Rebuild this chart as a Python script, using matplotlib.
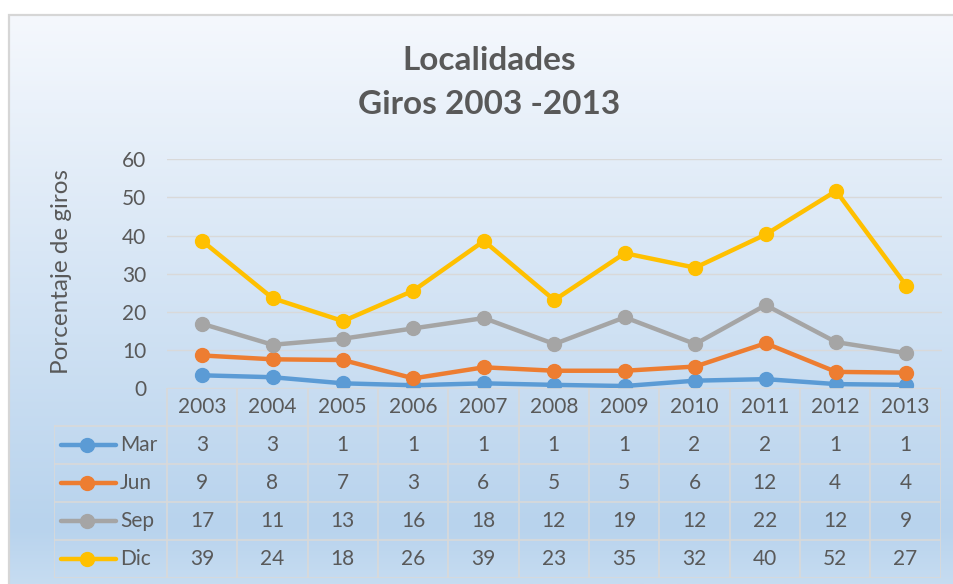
import matplotlib
matplotlib.use("Agg")
import matplotlib.pyplot as plt
import numpy as np
from matplotlib.patches import Rectangle

# data (lines), table shows rounded values
years = ["2003", "2004", "2005", "2006", "2007", "2008", "2009", "2010", "2011", "2012", "2013"]
series_names = ["Mar", "Jun", "Sep", "Dic"]
mar = [3.4, 2.9, 1.3, 0.8, 1.3, 0.9, 0.6, 2.0, 2.4, 1.1, 0.9]
jun = [8.6, 7.6, 7.4, 2.6, 5.5, 4.6, 4.6, 5.7, 11.8, 4.3, 4.1]
sep = [16.9, 11.4, 13.0, 15.7, 18.4, 11.6, 18.6, 11.6, 21.8, 12.1, 9.2]
dic = [38.6, 23.6, 17.6, 25.6, 38.6, 23.1, 35.4, 31.6, 40.3, 51.7, 26.8]
colors = ["#5b9bd5", "#ed7d31", "#a5a5a5", "#ffc000"]

W, H = 954, 584
txt = "#595959"
gridc = "#d9d9d9"
plt.rcParams['font.family'] = ['Lato', 'DejaVu Sans']

fig = plt.figure(figsize=(W / 100, H / 100), dpi=100)
fig.patch.set_facecolor("white")

# chart area gradient background
bg = fig.add_axes([10 / W, 0, 1 - 10 / W, (H - 16) / H], zorder=-5)
grad = np.linspace(0, 1, 256)
top = np.array([245, 248, 253]) / 255
mid = np.array([184, 211, 237]) / 255
bot = np.array([198, 220, 241]) / 255
cols = []
for g in grad:
    if g < 0.9:
        t = g / 0.9
        cols.append(top * (1 - t) + mid * t)
    else:
        t = (g - 0.9) / 0.1
        cols.append(mid * (1 - t) + bot * t)
cols = np.array(cols)[:, None, :]
bg.imshow(cols, aspect="auto", extent=[0, 1, 0, 1])
bg.set_axis_off()
fig.patches.append(Rectangle((9 / W, -0.1), 1.2, (H - 15) / H + 0.1,
                             transform=fig.transFigure, fill=False,
                             edgecolor="#d6d6d6", linewidth=1.6, zorder=-4))

# plot area
left, right = 167, 941.7
ytop, ybot = 159.3, 388.3
ax = fig.add_axes([left / W, 1 - ybot / H, (right - left) / W, (ybot - ytop) / H])
ax.patch.set_alpha(0)
x = np.arange(len(years))
for vals, c in zip([mar, jun, sep, dic], colors):
    ax.plot(x, vals, color=c, linewidth=3.2, marker="o", markersize=10,
            solid_capstyle="round", zorder=3)
ax.set_xlim(-0.5, len(years) - 0.5)
ax.set_ylim(0, 60)
ax.set_yticks(range(0, 61, 10))
ax.set_xticks([])
ax.grid(axis="y", color=gridc, linewidth=1)
for s in ax.spines.values():
    s.set_visible(False)
ax.tick_params(axis="y", length=0, pad=15, labelsize=15, labelcolor=txt)
for lab in ax.get_yticklabels():
    lab.set_horizontalalignment("right")

fig.text(62 / W, 1 - 272 / H, "Porcentaje de giros", rotation=90,
         ha="center", va="center", fontsize=17.5, color=txt)
fig.text(489 / W, 1 - 60 / H, "Localidades", ha="center", va="center",
         fontsize=24, fontweight="bold", color=txt)
fig.text(489 / W, 1 - 104 / H, "Giros 2003 -2013", ha="center", va="center",
         fontsize=24, fontweight="bold", color=txt)

# data table
tl, tr, tb = 54.3, 940.7, 578.3
lab_w = 1.6
tax = fig.add_axes([tl / W, 1 - tb / H, (tr - tl) / W, (tb - ybot) / H])
tax.patch.set_alpha(0)
tax.set_axis_off()
x0 = -0.5 - lab_w
tax.set_xlim(x0, len(years) - 0.5)
tax.set_ylim(5, 0)
n = len(years)
tax.plot([-0.5, n - 0.5], [0, 0], color=gridc, lw=1.2)
for r in range(1, 6):
    tax.plot([x0, n - 0.5], [r, r], color=gridc, lw=1.2)
for k in range(n + 1):
    tax.plot([-0.5 + k, -0.5 + k], [0, 5], color=gridc, lw=1.2)
tax.plot([x0, x0], [1, 5], color=gridc, lw=1.2)

for i, yr in enumerate(years):
    tax.text(i, 0.5, yr, ha="center", va="center", fontsize=15, color=txt)
for r, (name, vals, c) in enumerate(zip(series_names, [mar, jun, sep, dic], colors)):
    yc = r + 1.5
    tax.plot([x0 + 0.095, x0 + 0.878], [yc, yc], color=c, lw=3.2, solid_capstyle="round")
    tax.plot([x0 + 0.465], [yc], marker="o", color=c, markersize=10)
    tax.text(x0 + 0.934, yc, name, ha="left", va="center", fontsize=15, color=txt)
    for i, v in enumerate(vals):
        tax.text(i, yc, str(int(round(v))), ha="center", va="center",
                 fontsize=15, color=txt)

fig.savefig("out.png", dpi=100)
